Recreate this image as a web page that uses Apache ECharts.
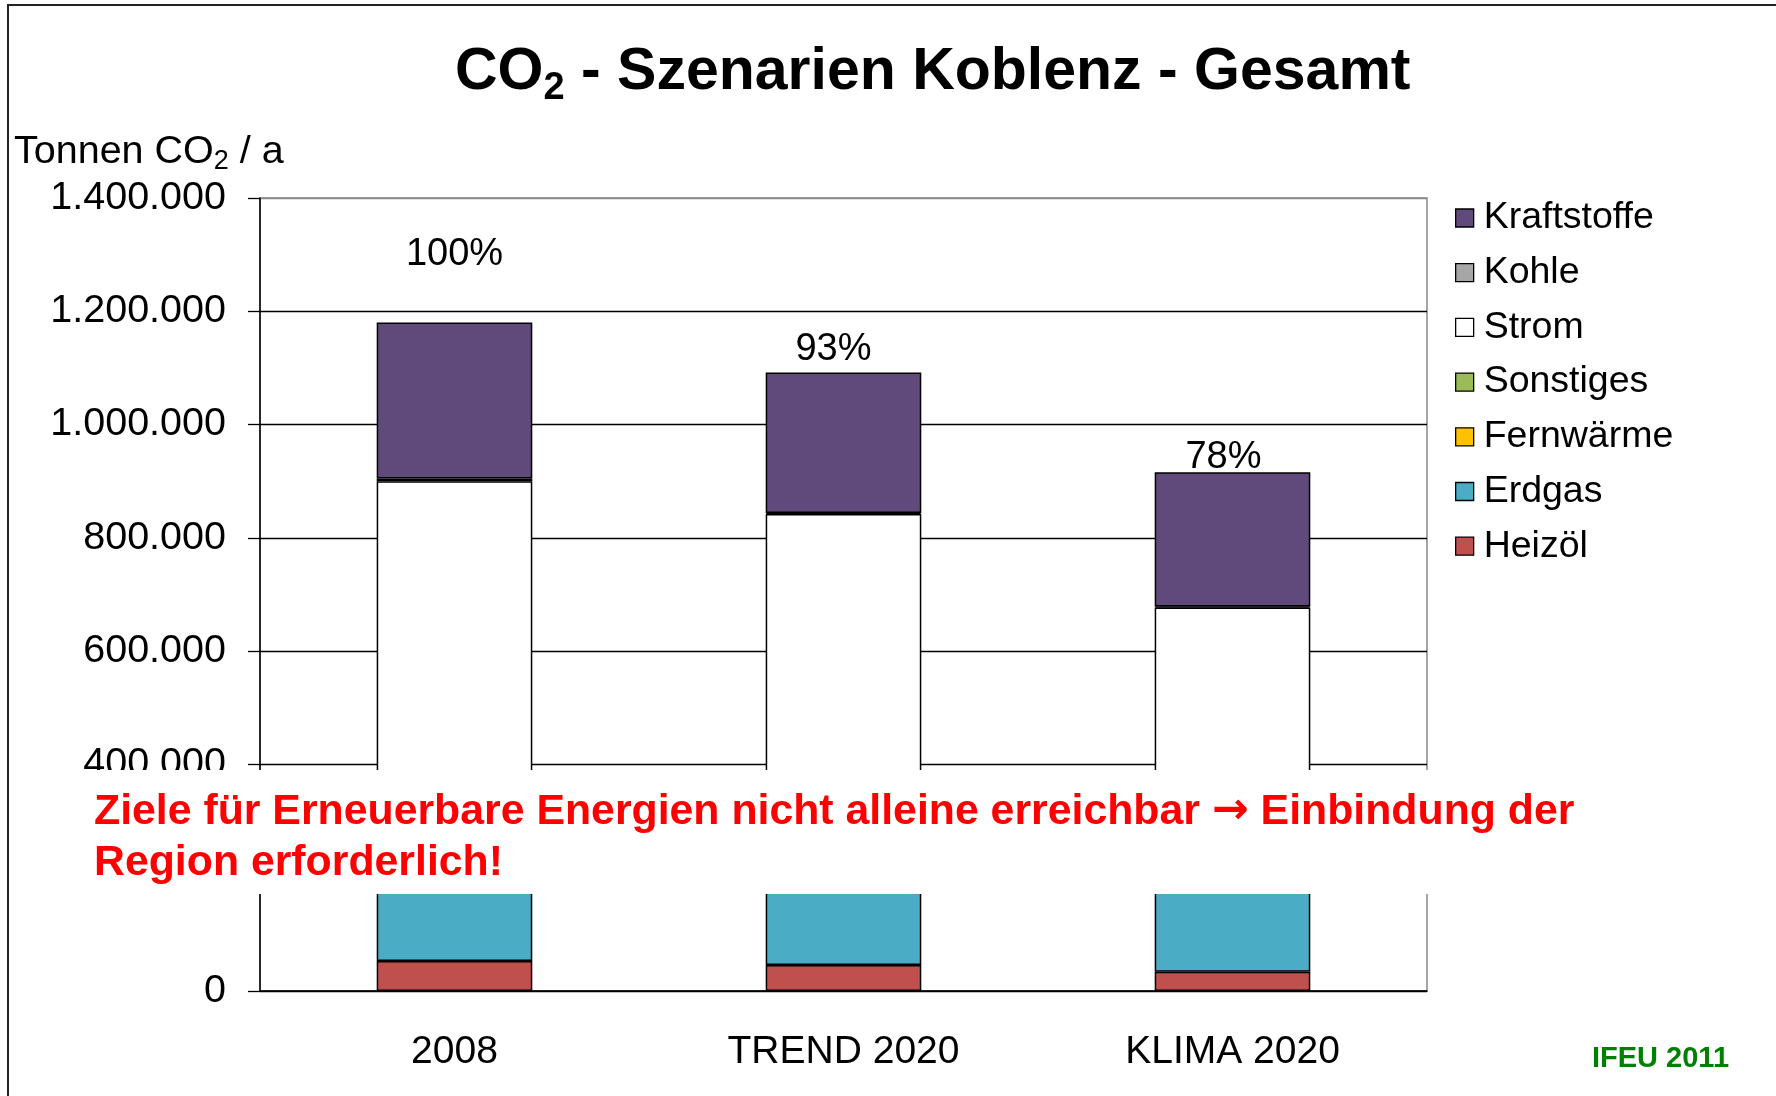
<!DOCTYPE html>
<html>
<head>
<meta charset="utf-8">
<title>CO2 - Szenarien Koblenz - Gesamt</title>
<script src="https://cdn.jsdelivr.net/npm/echarts@6/dist/echarts.min.js"></script>
<style>
  html, body { margin: 0; padding: 0; background: #fff; }
  #main { width: 1776px; height: 1096px; }
</style>
</head>
<body>
<div id="main"></div>
<script>
// Szenarien (x-Achse)
var categories = ["2008", "TREND 2020", "KLIMA 2020"];

// Tonnen CO2 / a je Energieträger, von unten nach oben gestapelt
var heizoel = [53000, 46000, 34000];
var erdgas = [265000, 250000, 220000];
var fernwaerme = [20000, 20000, 15000];
var sonstiges = [10000, 10000, 8000];
var strom = [552000, 516000, 400000];
var kohle = [5000, 2000, 2000];
var kraftstoffe = [275000, 248000, 237000];

// Beschriftung über den Säulen
var pctLabels = ["100%", "93%", "78%"];

// y-Achse
var yTicks = [0, 200000, 400000, 600000, 800000, 1000000, 1200000, 1400000];

var legendOrder = ["Kraftstoffe", "Kohle", "Strom", "Sonstiges", "Fernwärme", "Erdgas", "Heizöl"];

var FONT = "'Liberation Sans', Arial, Helvetica, sans-serif";

function tausender(v) {
  return String(v).replace(/\B(?=(\d{3})+(?!\d))/g, ".");
}

function barSeries(name, data, color) {
  return {
    name: name,
    type: "bar",
    stack: "gesamt",
    barWidth: "40%",
    data: data,
    itemStyle: { color: color, borderColor: "#000", borderWidth: 1.5 },
    emphasis: { disabled: true }
  };
}

var chart = echarts.init(document.getElementById("main"));

// Prozent-Labels sitzen im Original unterschiedlich hoch
var pctShift = [[0, -49], [-10, -4], [-9, 4]];

var topSeries = barSeries("Kraftstoffe", kraftstoffe.map(function (v, i) {
  return { value: v, label: { offset: pctShift[i] } };
}), "#604A7B");
topSeries.label = {
  show: true,
  position: "top",
  distance: 0,
  fontFamily: FONT,
  fontSize: 38,
  color: "#000",
  formatter: function (p) { return pctLabels[p.dataIndex]; }
};

chart.setOption({
  animation: false,
  backgroundColor: "#fff",
  title: {
    text: "{a|CO}{s|2}{a| - Szenarien Koblenz - Gesamt}",
    left: 455,
    top: 38,
    padding: 0,
    textStyle: {
      rich: {
        a: { fontFamily: FONT, fontSize: 59, fontWeight: "bold", color: "#000", lineHeight: 70 },
        s: { fontFamily: FONT, fontSize: 38, fontWeight: "bold", color: "#000", lineHeight: 38, verticalAlign: "bottom" }
      }
    }
  },
  legend: {
    orient: "vertical",
    left: 1450,
    top: 194,
    itemWidth: 18,
    itemHeight: 18,
    itemGap: 16.7,
    icon: "rect",
    data: legendOrder,
    selectedMode: false,
    itemStyle: { borderColor: "#000", borderWidth: 1.3 },
    textStyle: { fontFamily: FONT, fontSize: 37.5, color: "#000", lineHeight: 37.5, padding: [0, 0, 0, 5] }
  },
  grid: {
    left: 260,
    right: 349,
    top: 198,
    bottom: 105,
    show: true,
    borderColor: "#888",
    borderWidth: 1.5
  },
  xAxis: {
    type: "category",
    data: categories,
    axisLine: { lineStyle: { color: "#000", width: 1.5 } },
    axisTick: { length: 11, lineStyle: { color: "#000", width: 1.3 } },
    axisLabel: { fontFamily: FONT, fontSize: 39, color: "#000", margin: 42 }
  },
  yAxis: {
    type: "value",
    min: yTicks[0],
    max: yTicks[yTicks.length - 1],
    interval: yTicks[1] - yTicks[0],
    axisLine: { show: true, lineStyle: { color: "#000", width: 1.5 } },
    axisTick: { show: true, length: 12, lineStyle: { color: "#000", width: 1.3 } },
    axisLabel: {
      fontFamily: FONT, fontSize: 39.5, color: "#000", margin: 34,
      padding: [5, 0, 0, 0], formatter: tausender
    },
    splitLine: {
      lineStyle: { color: ["#000", "#000", "#000", "#000", "#000", "#000", "#000", "#888"], width: 1.3 }
    }
  },
  series: [
    barSeries("Heizöl", heizoel, "#C0504D"),
    barSeries("Erdgas", erdgas, "#4BACC6"),
    barSeries("Fernwärme", fernwaerme, "#FFC000"),
    barSeries("Sonstiges", sonstiges, "#9BBB59"),
    barSeries("Strom", strom, "#FFFFFF"),
    barSeries("Kohle", kohle, "#A6A6A6"),
    topSeries
  ],
  graphic: [
    // Rahmen um die Folie
    {
      type: "rect", z: 50, silent: true,
      shape: { x: 8, y: 5, width: 1800, height: 1200 },
      style: { fill: null, stroke: "#222", lineWidth: 2 }
    },
    // Achsentitel
    {
      type: "text", z: 50, left: 14, top: 132,
      style: {
        text: "{a|Tonnen CO}{s|2}{a| / a}",
        rich: {
          a: { fontFamily: FONT, fontSize: 39.5, fill: "#000", lineHeight: 46 },
          s: { fontFamily: FONT, fontSize: 27, fill: "#000", lineHeight: 26, verticalAlign: "bottom" }
        }
      }
    },
    // weisser Kasten über dem Diagramm
    {
      type: "rect", z: 100, silent: true,
      shape: { x: 12, y: 770, width: 1600, height: 124 },
      style: { fill: "#fff" }
    },
    {
      type: "text", z: 101, left: 94, top: 790,
      style: {
        text: "{t|Ziele für Erneuerbare Energien nicht alleine erreichbar }{p|\u2192}{t| Einbindung der}\n{t|Region erforderlich!}",
        fill: "#FF0000",
        rich: {
          t: { fontFamily: FONT, fontSize: 42.8, fontWeight: "bold", fill: "#FF0000", lineHeight: 51 },
          p: { fontFamily: "'DejaVu Sans', sans-serif", fontSize: 44, fontWeight: "bold", fill: "#FF0000", lineHeight: 51 }
        }
      }
    },
    {
      type: "text", z: 101, left: 1592, top: 1044,
      style: { text: "IFEU 2011", fontFamily: FONT, fontSize: 29, fontWeight: "bold", fill: "#008000" }
    }
  ]
});
</script>
</body>
</html>
